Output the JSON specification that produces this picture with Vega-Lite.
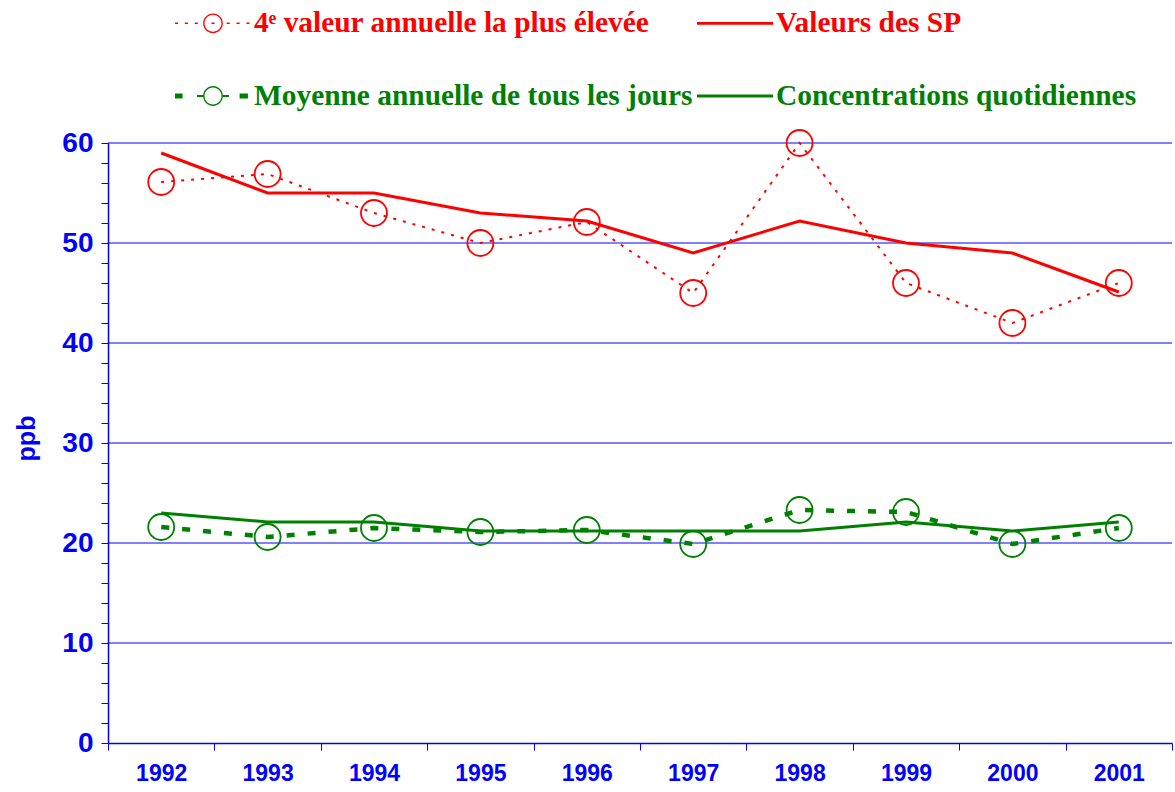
{
  "$schema": "https://vega.github.io/schema/vega-lite/v6.json",
  "width": 1064,
  "height": 600,
  "autosize": "none",
  "padding": {"left": 108, "top": 143, "right": 3, "bottom": 49},
  "background": "white",
  "config": {"view": {"stroke": null}, "font": "Liberation Sans"},
  "data": {
    "values": [
      {"year": 1992, "series": "4ᵉ valeur annuelle la plus élevée", "value": 56.1},
      {"year": 1993, "series": "4ᵉ valeur annuelle la plus élevée", "value": 56.9},
      {"year": 1994, "series": "4ᵉ valeur annuelle la plus élevée", "value": 53},
      {"year": 1995, "series": "4ᵉ valeur annuelle la plus élevée", "value": 50},
      {"year": 1996, "series": "4ᵉ valeur annuelle la plus élevée", "value": 52.1},
      {"year": 1997, "series": "4ᵉ valeur annuelle la plus élevée", "value": 45},
      {"year": 1998, "series": "4ᵉ valeur annuelle la plus élevée", "value": 60},
      {"year": 1999, "series": "4ᵉ valeur annuelle la plus élevée", "value": 46},
      {"year": 2000, "series": "4ᵉ valeur annuelle la plus élevée", "value": 42},
      {"year": 2001, "series": "4ᵉ valeur annuelle la plus élevée", "value": 46},
      {"year": 1992, "series": "Valeurs des SP", "value": 59},
      {"year": 1993, "series": "Valeurs des SP", "value": 55},
      {"year": 1994, "series": "Valeurs des SP", "value": 55},
      {"year": 1995, "series": "Valeurs des SP", "value": 53},
      {"year": 1996, "series": "Valeurs des SP", "value": 52.2},
      {"year": 1997, "series": "Valeurs des SP", "value": 49},
      {"year": 1998, "series": "Valeurs des SP", "value": 52.2},
      {"year": 1999, "series": "Valeurs des SP", "value": 50},
      {"year": 2000, "series": "Valeurs des SP", "value": 49},
      {"year": 2001, "series": "Valeurs des SP", "value": 45.1},
      {"year": 1992, "series": "Moyenne annuelle de tous les jours", "value": 21.6},
      {"year": 1993, "series": "Moyenne annuelle de tous les jours", "value": 20.6},
      {"year": 1994, "series": "Moyenne annuelle de tous les jours", "value": 21.5},
      {"year": 1995, "series": "Moyenne annuelle de tous les jours", "value": 21.1},
      {"year": 1996, "series": "Moyenne annuelle de tous les jours", "value": 21.3},
      {"year": 1997, "series": "Moyenne annuelle de tous les jours", "value": 19.9},
      {"year": 1998, "series": "Moyenne annuelle de tous les jours", "value": 23.3},
      {"year": 1999, "series": "Moyenne annuelle de tous les jours", "value": 23.1},
      {"year": 2000, "series": "Moyenne annuelle de tous les jours", "value": 19.9},
      {"year": 2001, "series": "Moyenne annuelle de tous les jours", "value": 21.5},
      {"year": 1992, "series": "Concentrations quotidiennes", "value": 23},
      {"year": 1993, "series": "Concentrations quotidiennes", "value": 22.1},
      {"year": 1994, "series": "Concentrations quotidiennes", "value": 22.1},
      {"year": 1995, "series": "Concentrations quotidiennes", "value": 21.2},
      {"year": 1996, "series": "Concentrations quotidiennes", "value": 21.2},
      {"year": 1997, "series": "Concentrations quotidiennes", "value": 21.2},
      {"year": 1998, "series": "Concentrations quotidiennes", "value": 21.2},
      {"year": 1999, "series": "Concentrations quotidiennes", "value": 22.1},
      {"year": 2000, "series": "Concentrations quotidiennes", "value": 21.2},
      {"year": 2001, "series": "Concentrations quotidiennes", "value": 22.1}
    ]
  },
  "layer": [
    {
      "data": {"values": [{"grid": 10}, {"grid": 20}, {"grid": 30}, {"grid": 40}, {"grid": 50}, {"grid": 60}]},
      "mark": {"type": "rule", "color": "#0000ff", "strokeWidth": 1.1},
      "encoding": {
        "y": {
          "field": "grid",
          "type": "quantitative",
          "scale": {"domain": [0, 60], "nice": false},
          "axis": {
            "title": "ppb",
            "titleFont": "Liberation Sans",
            "titleFontSize": 25,
            "titleFontWeight": "bold",
            "titleColor": "#0000ff",
            "titleAngle": -90,
            "titleX": -82,
            "titleY": 295,
            "titleAlign": "center",
            "titleBaseline": "middle",
            "values": [0, 2, 4, 6, 8, 10, 12, 14, 16, 18, 20, 22, 24, 26, 28, 30, 32, 34, 36, 38, 40, 42, 44, 46, 48, 50, 52, 54, 56, 58, 60],
            "labelExpr": "datum.value % 10 === 0 ? datum.label : ''",
            "labelOverlap": false,
            "labelFlush": false,
            "labelFont": "Liberation Sans",
            "labelFontSize": 28,
            "labelFontWeight": "bold",
            "labelColor": "#0000ff",
            "labelPadding": 8,
            "tickSize": 7,
            "tickColor": "#0000ff",
            "tickWidth": 1,
            "domainColor": "#0000ff",
            "domainWidth": 1.5,
            "grid": false
          }
        }
      }
    },
    {
      "encoding": {
        "x": {
          "field": "year",
          "type": "ordinal",
          "bandPosition": 0.5,
          "scale": {"type": "band", "paddingInner": 0, "paddingOuter": 0},
          "axis": {
            "title": null,
            "tickBand": "extent",
            "labelAngle": 0,
            "labelFont": "Liberation Sans",
            "labelFontWeight": "bold",
            "labelFontSize": 23,
            "labelColor": "#0000ff",
            "labelPadding": 12,
            "tickColor": "#0000ff",
            "tickSize": 7,
            "tickWidth": 1,
            "domainColor": "#0000ff",
            "domainWidth": 1.5,
            "grid": false
          }
        },
        "y": {
          "field": "value",
          "type": "quantitative",
          "scale": {"domain": [0, 60], "nice": false},
          "axis": {
            "title": "ppb",
            "titleFont": "Liberation Sans",
            "titleFontSize": 25,
            "titleFontWeight": "bold",
            "titleColor": "#0000ff",
            "titleAngle": -90,
            "titleX": -82,
            "titleY": 295,
            "titleAlign": "center",
            "titleBaseline": "middle",
            "values": [0, 2, 4, 6, 8, 10, 12, 14, 16, 18, 20, 22, 24, 26, 28, 30, 32, 34, 36, 38, 40, 42, 44, 46, 48, 50, 52, 54, 56, 58, 60],
            "labelExpr": "datum.value % 10 === 0 ? datum.label : ''",
            "labelOverlap": false,
            "labelFlush": false,
            "labelFont": "Liberation Sans",
            "labelFontSize": 28,
            "labelFontWeight": "bold",
            "labelColor": "#0000ff",
            "labelPadding": 8,
            "tickSize": 7,
            "tickColor": "#0000ff",
            "tickWidth": 1,
            "domainColor": "#0000ff",
            "domainWidth": 1.5,
            "grid": false
          }
        },
        "color": {
          "field": "series",
          "type": "nominal",
          "scale": {
            "domain": ["4ᵉ valeur annuelle la plus élevée", "Valeurs des SP", "Moyenne annuelle de tous les jours", "Concentrations quotidiennes"],
            "range": ["#ff0000", "#ff0000", "#008000", "#008000"]
          },
          "legend": {
            "title": null,
            "orient": "none",
            "legendX": 67,
            "legendY": -158,
            "direction": "horizontal",
            "columns": 2,
            "columnPadding": 4,
            "rowPadding": 20,
            "padding": 0,
            "labelFont": "Liberation Serif",
            "labelFontWeight": "bold",
            "labelFontSize": 29.4,
            "labelLimit": 0,
            "labelOffset": 3,
            "symbolSize": 5776,
            "encode": {
              "labels": {
                "update": {
                  "fill": {"signal": "indexof(datum.value, 'SP') >= 0 || indexof(datum.value, 'valeur annuelle') >= 0 ? '#ff0000' : '#008000'"}
                }
              },
              "symbols": {
                "update": {
                  "size": {"value": 5776},
                  "opacity": {"value": 1},
                  "fill": {"signal": "indexof(datum.value, 'SP') >= 0 || indexof(datum.value, 'valeur annuelle') >= 0 ? '#ff0000' : '#008000'"},
                  "fillOpacity": {"value": 1},
                  "stroke": {"value": "transparent"},
                  "strokeWidth": {"value": 0},
                  "strokeDash": {"value": []},
                  "shape": {"signal": "datum.value === 'Valeurs des SP' ? 'M-1,-0.035H1V0.035H-1Z' : datum.value === 'Concentrations quotidiennes' ? 'M-1,-0.04H1V0.04H-1Z' : datum.value === 'Moyenne annuelle de tous les jours' ? 'M-1,-0.065h0.2v0.13h-0.2z M-0.42,-0.025h0.16v0.05h-0.16z M0.26,-0.025h0.16v0.05h-0.16z M0.7,-0.065h0.22v0.13h-0.22z M-0.26,0A0.26,0.26 0 1,0 0.26,0A0.26,0.26 0 1,0 -0.26,0Z M-0.224,0A0.224,0.224 0 1,1 0.224,0A0.224,0.224 0 1,1 -0.224,0Z' : 'M-1,-0.021h0.08v0.042h-0.08z M-0.74,-0.021h0.08v0.042h-0.08z M-0.48,-0.021h0.08v0.042h-0.08z M-0.04,-0.021h0.08v0.042h-0.08z M0.36,-0.021h0.08v0.042h-0.08z M0.62,-0.021h0.08v0.042h-0.08z M0.88,-0.021h0.08v0.042h-0.08z M-0.26,0A0.26,0.26 0 1,0 0.26,0A0.26,0.26 0 1,0 -0.26,0Z M-0.224,0A0.224,0.224 0 1,1 0.224,0A0.224,0.224 0 1,1 -0.224,0Z'"}
                }
              }
            }
          }
        }
      },
      "layer": [
        {
          "transform": [{"filter": {"field": "series", "equal": "Valeurs des SP"}}],
          "mark": {"type": "line", "strokeWidth": 3}
        },
        {
          "transform": [{"filter": {"field": "series", "equal": "4ᵉ valeur annuelle la plus élevée"}}],
          "mark": {"type": "line", "strokeWidth": 2, "strokeDash": [3, 7]}
        },
        {
          "transform": [{"filter": {"field": "series", "equal": "Concentrations quotidiennes"}}],
          "mark": {"type": "line", "strokeWidth": 3}
        },
        {
          "transform": [{"filter": {"field": "series", "equal": "Moyenne annuelle de tous les jours"}}],
          "mark": {"type": "line", "strokeWidth": 4.5, "strokeDash": [8, 13]}
        },
        {
          "transform": [{"filter": {"field": "series", "oneOf": ["4ᵉ valeur annuelle la plus élevée", "Moyenne annuelle de tous les jours"]}}],
          "mark": {"type": "point", "shape": "circle", "filled": false, "size": 676, "strokeWidth": 1.8, "opacity": 1}
        }
      ]
    }
  ]
}
